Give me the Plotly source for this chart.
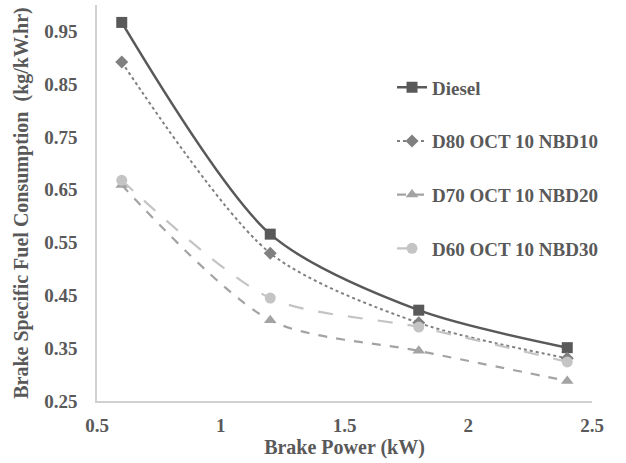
import plotly.graph_objects as go

x_power = [0.6, 1.2, 1.8, 2.4]
diesel = [0.967, 0.566, 0.422, 0.351]
d80 = [0.892, 0.530, 0.398, 0.331]
d70 = [0.659, 0.403, 0.345, 0.288]
d60 = [0.668, 0.445, 0.390, 0.324]

x_ticks = [0.5, 1, 1.5, 2, 2.5]
x_labels = ["0.5", "1", "1.5", "2", "2.5"]
y_ticks = [0.25, 0.35, 0.45, 0.55, 0.65, 0.75, 0.85, 0.95]
y_labels = ["0.25", "0.35", "0.45", "0.55", "0.65", "0.75", "0.85", "0.95"]

names = ["Diesel", "D80 OCT 10 NBD10", "D70 OCT 10 NBD20", "D60 OCT 10 NBD30"]
series = [diesel, d80, d70, d60]
colors = ["#595959", "#808080", "#a3a3a3", "#c4c4c4"]
dashes = ["solid", "dot", "dash", "longdash"]
symbols = ["square", "diamond", "triangle-up", "circle"]
widths = [2.5, 2, 2.2, 2.2]
msizes = [11, 10, 11, 11]

font = "Liberation Serif"
txt = "#595959"
fig = go.Figure()
for i, (n, s) in enumerate(zip(names, series)):
    fig.add_trace(go.Scatter(
        x=x_power, y=s, name="<b>" + n + "</b>", mode="lines+markers", legendgroup=n,
        line=dict(color=colors[i], dash=dashes[i], width=widths[i], shape="spline", smoothing=0.8),
        marker=dict(symbol=symbols[i], size=msizes[i], color=colors[i]),
    ))

fig.update_layout(
    width=626, height=463,
    margin=dict(l=97, r=34, t=5, b=62),
    plot_bgcolor="white", paper_bgcolor="white",
    font=dict(family=font, size=19, color=txt),
    showlegend=True,
    legend=dict(x=0.596, y=0.84, xanchor="left", yanchor="top",
                font=dict(family=font, size=19, color=txt),
                tracegroupgap=26, bgcolor="rgba(0,0,0,0)"),
    xaxis=dict(range=[0.5, 2.5], tickvals=x_ticks,
               ticktext=["<b>" + t + "</b>" for t in x_labels],
               showgrid=False, zeroline=False, showline=True, linecolor="#d0d0d0", linewidth=1.5,
               ticks="", ticklabelstandoff=6, tickfont=dict(family=font, size=19, color=txt),
               title=dict(text="<b>Brake Power (kW)</b>", font=dict(family=font, size=20, color=txt), standoff=2)),
    yaxis=dict(range=[0.25, 1.0], tickvals=y_ticks,
               ticktext=["<b>" + t + "</b>" for t in y_labels],
               showgrid=False, zeroline=False, showline=True, linecolor="#d0d0d0", linewidth=1.5,
               ticks="", ticklabelstandoff=14, tickfont=dict(family=font, size=19, color=txt),
               title=dict(text="<b>Brake Specific Fuel Consumption  (kg/kW.hr)</b>", font=dict(family=font, size=20, color=txt), standoff=10)),
)

fig.write_html("out.html")
